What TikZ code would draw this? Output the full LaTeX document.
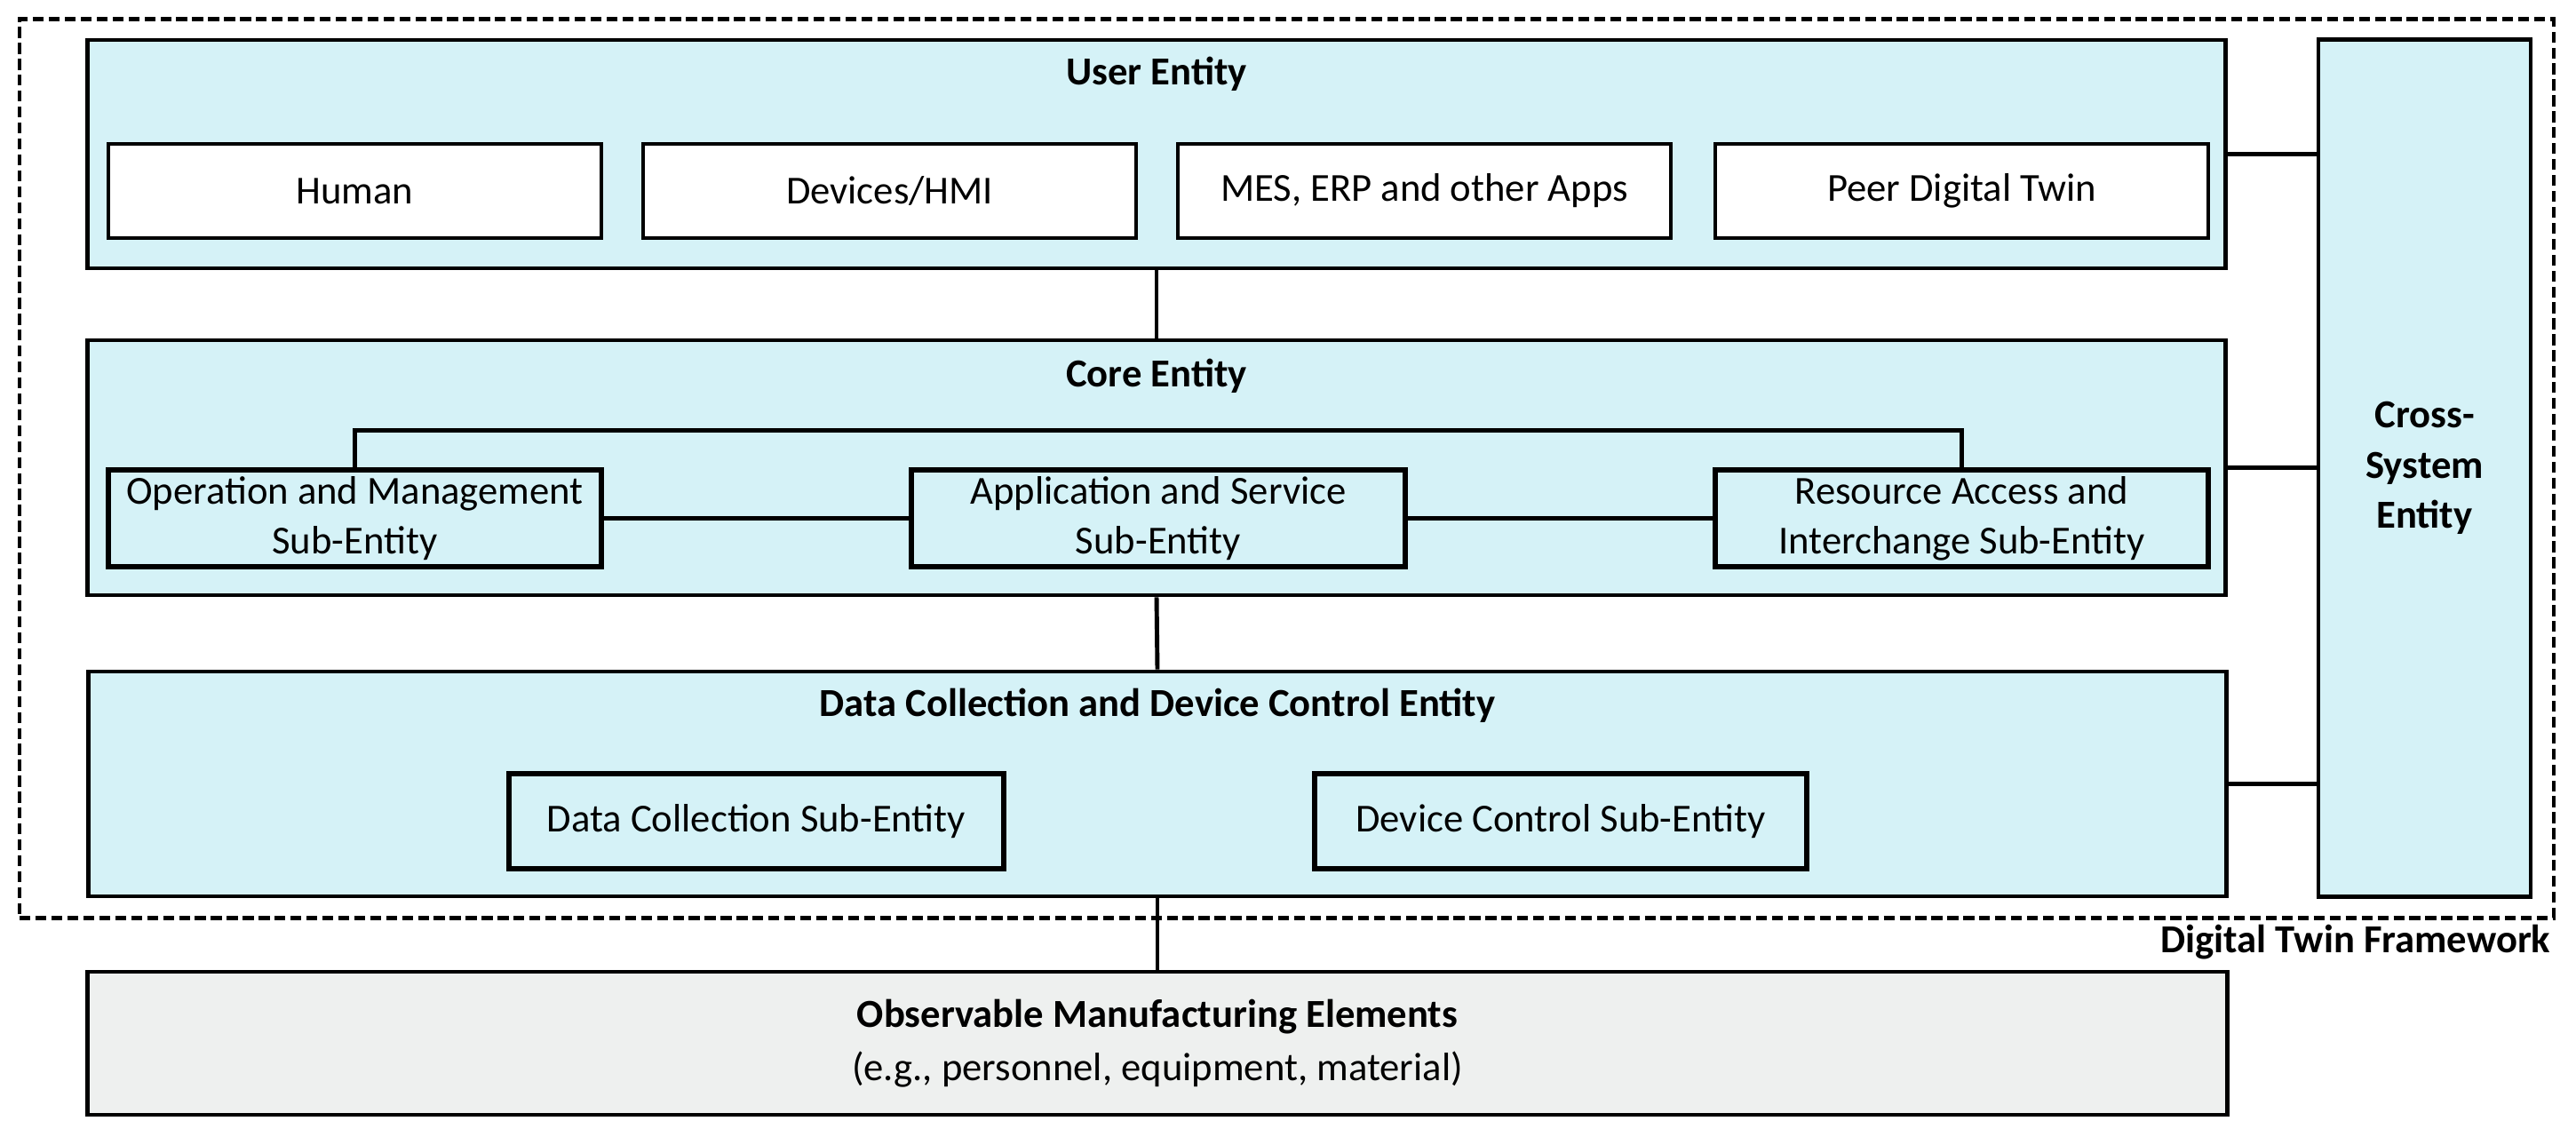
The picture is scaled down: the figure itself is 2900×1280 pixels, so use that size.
\documentclass[tikz,border=0pt]{standalone}
\usepackage{fontspec}
\setmainfont{Carlito}
\usetikzlibrary{calc}

\definecolor{entityblue}{HTML}{D5F2F7}
\definecolor{elemgray}{HTML}{EEF0EF}

\tikzset{
    txt/.style={font=\fontsize{12.7}{16}\selectfont, align=center, inner sep=2pt},
    heading/.style={txt, font=\fontsize{12.7}{16}\selectfont\bfseries},
    entity/.style={draw, line width=1.3pt, fill=entityblue, minimum width=24.06cm},
    appbox/.style={txt, draw, line width=1.3pt, fill=white, minimum width=5.55cm, minimum height=1.06cm},
    subentity/.style={txt, draw, line width=1.7pt, fill=entityblue, minimum height=1.06cm},
    link/.style={line width=1.4pt},
    framework/.style={draw, line width=1.3pt, dash pattern=on 3.5pt off 1.6pt,
        minimum width=28.51cm, minimum height=10.11cm}
}

\begin{document}
\begin{tikzpicture}[x=0.01cm, y=-0.01cm]

    \useasboundingbox (0,0) rectangle (2900,1280);

    % digital twin framework boundary
    \node[framework] (dtf) at (1448.5,527.5) {};
    \node[heading, anchor=east] (dtfT) at (2879,1061) {Digital Twin Framework};

    % user entity
    \node[entity, minimum height=2.57cm] (user) at (1302,173.5) {};
    \node[heading] (userT) at (1302,83) {User Entity};
    \foreach \x/\name/\label in {399.5/human/Human, 1001.5/hmi/{Devices/HMI},
            1603.5/apps/{MES, ERP and other Apps}, 2208.5/peer/Peer Digital Twin} {
        \node[appbox] (\name) at (\x,215) {\label};
    }

    % core entity
    \node[entity, minimum height=2.87cm] (core) at (1302,526.5) {};
    \node[heading] (coreT) at (1302,423) {Core Entity};
    \node[subentity, minimum width=5.55cm] (om) at (399.5,583.5) {Operation and Management\\Sub-Entity};
    \node[subentity, minimum width=5.56cm] (app) at (1304,583.5) {Application and Service\\Sub-Entity};
    \node[subentity, minimum width=5.55cm] (ra) at (2208.5,583.5) {Resource Access and\\Interchange Sub-Entity};

    % data collection and device control entity
    \node[entity, minimum height=2.53cm] (dc) at (1303,882.5) {};
    \node[heading] (dcT) at (1303,794) {Data Collection and Device Control Entity};
    \node[subentity, minimum width=5.57cm] (dcsub) at (851.5,924.5) {Data Collection Sub-Entity};
    \node[subentity, minimum width=5.54cm] (devsub) at (1757,924.5) {Device Control Sub-Entity};

    % cross-system entity
    \node[heading, draw, line width=1.3pt, fill=entityblue, minimum width=2.39cm,
        minimum height=9.64cm] (cross) at (2729.5,527) {Cross-\\System\\Entity};

    % observable manufacturing elements
    \node[txt, draw, line width=1.3pt, fill=elemgray, minimum width=24.08cm,
        minimum height=1.61cm] (obs) at (1303,1174.5)
        {\textbf{Observable Manufacturing Elements}\\[1pt](e.g., personnel, equipment, material)};

    % links between the layers
    \draw[link] (user.south) -- (core.north);
    \draw[link] (core.south) -- (dc.north);
    \draw[link] (dc.south) -- (obs.north);

    % links inside the core entity
    \draw[link] (om.north) -- ++(0,-42) -| (ra.north);
    \draw[link] (om.east) -- (app.west);
    \draw[link] (app.east) -- (ra.west);

    % links to the cross-system entity
    \draw[link] (user.east) -- (user.east -| cross.west);
    \draw[link] (core.east) -- (core.east -| cross.west);
    \draw[link] (dc.east) -- (dc.east -| cross.west);

\end{tikzpicture}
\end{document}
